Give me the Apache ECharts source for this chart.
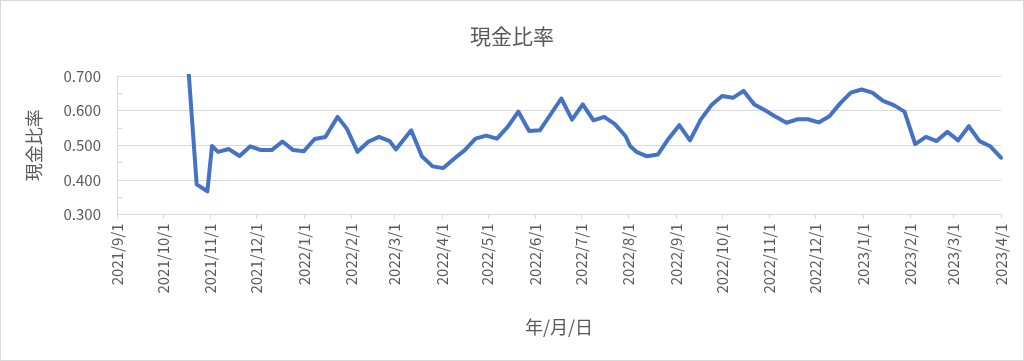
<!DOCTYPE html>
<html>
<head>
<meta charset="utf-8">
<script src="https://cdn.jsdelivr.net/npm/echarts@6/dist/echarts.min.js"></script>
<style>
  html, body { margin: 0; padding: 0; background: #fff; }
  #wrap { width: 1024px; height: 361px; box-sizing: border-box; border: 1px solid #d9d9d9; }
  #chart { width: 1022px; height: 359px; }
</style>
</head>
<body>
<div id="wrap"><div id="chart"></div></div>
<script>
const titleText = '現金比率';
const yAxisName = '現金比率';
const xAxisName = '年/月/日';
const xMin = '2021-09-01';
const xMax = '2023-04-01';
const yTicks = [0.3, 0.4, 0.5, 0.6, 0.7];

const dates = [
  '2021-10-16','2021-10-23','2021-10-30','2021-11-02','2021-11-06','2021-11-13','2021-11-20','2021-11-27',
  '2021-12-04','2021-12-11','2021-12-18','2021-12-25','2022-01-01','2022-01-08','2022-01-15','2022-01-23',
  '2022-01-29','2022-02-05','2022-02-12','2022-02-19','2022-02-26','2022-03-02','2022-03-12','2022-03-19',
  '2022-03-26','2022-04-02','2022-04-09','2022-04-16','2022-04-23','2022-04-30','2022-05-07','2022-05-14',
  '2022-05-21','2022-05-28','2022-06-04','2022-06-18','2022-06-25','2022-07-02','2022-07-09','2022-07-16',
  '2022-07-23','2022-07-30','2022-08-02','2022-08-06','2022-08-13','2022-08-20','2022-08-27','2022-09-03',
  '2022-09-10','2022-09-17','2022-09-24','2022-10-01','2022-10-08','2022-10-15','2022-10-22','2022-10-29',
  '2022-11-05','2022-11-12','2022-11-19','2022-11-26','2022-12-03','2022-12-10','2022-12-17','2022-12-24',
  '2022-12-31','2023-01-07','2023-01-14','2023-01-21','2023-01-28','2023-02-04','2023-02-11','2023-02-18',
  '2023-02-25','2023-03-04','2023-03-11','2023-03-18','2023-03-25','2023-04-01'
];
const cashRatio = [
  0.820,0.387,0.367,0.498,0.481,0.489,0.469,0.497,
  0.486,0.486,0.511,0.486,0.483,0.518,0.524,0.582,
  0.548,0.481,0.510,0.524,0.512,0.488,0.543,0.468,
  0.439,0.434,0.461,0.486,0.519,0.528,0.519,0.553,
  0.597,0.541,0.543,0.635,0.574,0.618,0.572,0.582,
  0.561,0.526,0.497,0.481,0.468,0.473,0.519,0.558,
  0.514,0.574,0.616,0.642,0.637,0.657,0.618,0.601,
  0.582,0.565,0.575,0.575,0.566,0.584,0.621,0.652,
  0.661,0.652,0.628,0.616,0.597,0.503,0.524,0.512,
  0.539,0.514,0.555,0.512,0.497,0.464
];

const seriesData = dates.map((d, i) => [d, cashRatio[i]]);
const DAY = 86400000;
const gray = '#595959';
const font = '"Noto Sans CJK JP", "Liberation Sans", sans-serif';

const chart = echarts.init(document.getElementById('chart'), null, { renderer: 'canvas' });
chart.setOption({
  animation: false,
  backgroundColor: '#fff',
  textStyle: { fontFamily: font },
  title: {
    text: titleText,
    left: 'center',
    top: 20,
    textStyle: { fontSize: 21, fontWeight: 'normal', color: gray, fontFamily: font }
  },
  grid: { left: 116, right: 22, top: 75, bottom: 145.5, containLabel: false },
  xAxis: {
    type: 'time',
    min: xMin,
    max: xMax,
    splitNumber: 19,
    minInterval: 28 * DAY,
    maxInterval: 31 * DAY,
    name: xAxisName,
    nameLocation: 'middle',
    nameGap: 104,
    nameTextStyle: { fontSize: 18, color: gray, fontFamily: font },
    axisLine: { show: true, lineStyle: { color: '#d9d9d9', width: 1 } },
    axisTick: { show: true, length: 4, lineStyle: { color: '#d9d9d9' } },
    splitLine: { show: false },
    axisLabel: {
      rotate: 90,
      margin: 9,
      fontSize: 15,
      color: gray,
      fontFamily: font,
      showMinLabel: true,
      showMaxLabel: true,
      hideOverlap: false,
      formatter: function (v) {
        const d = new Date(v);
        return d.getFullYear() + '/' + (d.getMonth() + 1) + '/' + d.getDate();
      }
    }
  },
  yAxis: {
    type: 'value',
    min: yTicks[0],
    max: yTicks[yTicks.length - 1],
    interval: 0.1,
    name: yAxisName,
    nameLocation: 'middle',
    nameGap: 74,
    nameRotate: 90,
    nameTextStyle: { fontSize: 18, color: gray, fontFamily: font },
    axisLine: { show: true, lineStyle: { color: '#d9d9d9', width: 1 } },
    axisTick: { show: true, inside: true, length: 5, lineStyle: { color: '#d9d9d9' } },
    minorTick: { show: true, splitNumber: 2, length: 5, lineStyle: { color: '#d9d9d9' } },
    splitLine: { show: true, lineStyle: { color: '#d9d9d9', width: 1 } },
    axisLabel: {
      margin: 16,
      fontSize: 15,
      color: gray,
      fontFamily: font,
      formatter: function (v) { return v.toFixed(3); }
    }
  },
  series: [{
    type: 'line',
    data: seriesData,
    showSymbol: false,
    symbol: 'none',
    clip: true,
    lineStyle: { color: '#4472C4', width: 4, join: 'round', cap: 'round' },
    itemStyle: { color: '#4472C4' }
  }]
});
</script>
</body>
</html>
